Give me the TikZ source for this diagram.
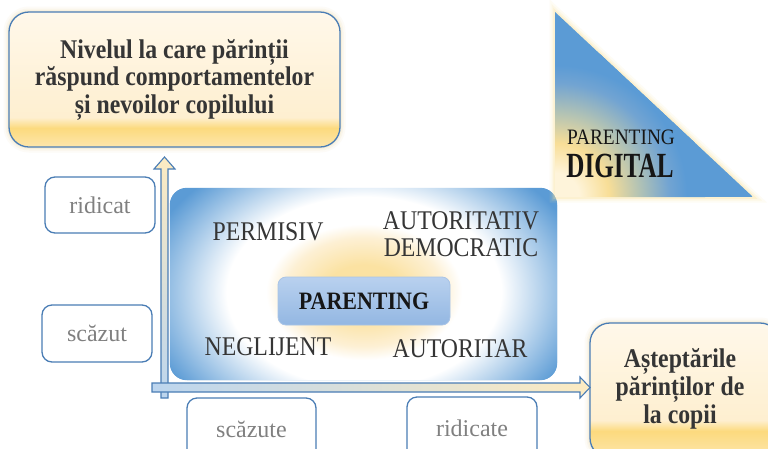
\documentclass[tikz,border=0pt]{standalone}
\usepackage{fontspec}
\setmainfont{Liberation Serif}[FakeStretch=0.88]
\newfontfamily\tagfont{Liberation Serif}

\definecolor{accent}{HTML}{5B9BD5}
\definecolor{edge}{HTML}{4A7DB5}
\definecolor{ink}{HTML}{353535}
\definecolor{tagink}{HTML}{808080}
\definecolor{coreink}{HTML}{161616}
\definecolor{creamtop}{HTML}{FFF8EA}
\definecolor{creammid}{HTML}{FEEFD0}
\definecolor{band}{HTML}{FCDA7E}
\definecolor{bandlow}{HTML}{FDE6AC}
\definecolor{glowcream}{HTML}{EFDDB2}
\definecolor{glowyellow}{HTML}{FBE29A}
\definecolor{glowcore}{HTML}{FBE2A2}
\definecolor{glowmid}{HTML}{FDF0D4}
\definecolor{cornercream}{HTML}{FEF4DA}
\definecolor{corneryellow}{HTML}{F8DE97}
\definecolor{cornergrey}{HTML}{B3C3B4}
\definecolor{cornerblue}{HTML}{72A4D2}
\definecolor{coretop}{HTML}{B9D1EF}
\definecolor{corebot}{HTML}{93B7E2}
\definecolor{corerim}{HTML}{A9C4E6}
\definecolor{axcream}{HTML}{FCEBC2}
\definecolor{axblue}{HTML}{BCD5EE}

% cream fill with a warm band near the lower edge
\pgfdeclareverticalshading{bandtop}{100bp}{color(0bp)=(bandlow); color(25bp)=(bandlow);
  color(32bp)=(band); color(36bp)=(creammid); color(75bp)=(creamtop); color(100bp)=(creamtop)}
\pgfdeclareverticalshading{bandright}{100bp}{color(0bp)=(bandlow); color(25bp)=(bandlow);
  color(35bp)=(band); color(39bp)=(creammid); color(75bp)=(creamtop); color(100bp)=(creamtop)}
% warm centre fading to white and then to blue
\pgfdeclareradialshading{coreglow}{\pgfpoint{0bp}{0bp}}{color(0bp)=(glowcore); color(4bp)=(glowcore);
  color(8bp)=(glowmid); color(10bp)=(white); color(14bp)=(white); color(23bp)=(accent); color(50bp)=(accent)}
% warm corner of the triangle
\pgfdeclareradialshading{cornerglow}{\pgfpoint{0bp}{0bp}}{color(0bp)=(cornercream); color(4bp)=(cornercream);
  color(9bp)=(corneryellow); color(14bp)=(cornergrey); color(19bp)=(cornerblue); color(22bp)=(accent); color(50bp)=(accent)}

\begin{document}
\begin{tikzpicture}[x=1pt,y=-1pt,
  softglow/.style={preaction={draw=#1,line width=11pt,draw opacity=0.10},
                   preaction={draw=#1,line width=7pt,draw opacity=0.16},
                   preaction={draw=#1,line width=3.5pt,draw opacity=0.28}},
  creambox/.style={draw=edge,line width=1.3pt,rounded corners=20pt,softglow=glowcream,inner sep=0pt},
  tagbox/.style={draw=edge,line width=1.3pt,rounded corners=10pt,fill=white,text=tagink,
                 font=\tagfont\fontsize{24}{28}\selectfont,inner sep=0pt},
  quadlabel/.style={text=ink,font=\fontsize{27}{27}\selectfont,align=center,inner sep=0pt},
  axisarrow/.style={draw=edge,line width=1.1pt,line join=miter}]

\clip (0,0) rectangle (768,448);
\fill[white] (0,0) rectangle (768,448);

% response axis caption
\node[creambox,shading=bandtop,minimum width=331pt,minimum height=135pt,text=ink,
      font=\bfseries\fontsize{27}{27.5}\selectfont,align=center] (resp) at (174.5,79.5)
  {Nivelul la care părinții\\răspund comportamentelor\\și nevoilor copilului};

% expectations axis caption
\node[creambox,shading=bandright,minimum width=190pt,minimum height=135pt] (expbox) at (685,390.5) {};
\node[text=ink,font=\bfseries\fontsize{27}{28}\selectfont,align=center,inner sep=0pt] (exptext) at (680,389)
  {Așteptările\\părinților de\\la copii};

% level tags
\node[tagbox,minimum width=110pt,minimum height=56pt] (resphigh) at (100,205) {ridicat};
\node[tagbox,minimum width=110pt,minimum height=57pt] (resplow) at (97,333.5) {scăzut};
\node[tagbox,minimum width=129pt,minimum height=62pt] (explow) at (251.5,429) {scăzute};
\node[tagbox,minimum width=130pt,minimum height=63pt] (exphigh) at (472,428.5) {ridicate};

% the four styles field
\node[minimum width=387pt,minimum height=192pt,rounded corners=17pt,fill=accent,inner sep=0pt] (quad) at (363.5,284) {};
\begin{scope}
  \clip[rounded corners=17pt] (quad.north west) rectangle (quad.south east);
  \shade[shading=coreglow] (364,292) ellipse [x radius=245, y radius=170];
\end{scope}

\node[quadlabel] (permisiv) at (268,231.5) {PERMISIV};
\node[quadlabel] (autoritativ) at (461,234.5) {AUTORITATIV\\DEMOCRATIC};
\node[quadlabel] (neglijent) at (268,347) {NEGLIJENT};
\node[quadlabel] (autoritar) at (460,348.5) {AUTORITAR};

\node[rounded corners=8pt,top color=coretop,bottom color=corebot,draw=corerim,line width=0.8pt,
      minimum width=172pt,minimum height=48pt,inner sep=0pt,text=coreink,
      font=\bfseries\fontsize{25}{25}\selectfont] (core) at (364,301) {PARENTING};

% axes
\coordinate (ytip) at (164.5,157);
\coordinate (xtip) at (590,387.5);
\shadedraw[axisarrow,top color=axcream,bottom color=axblue]
  (161,398) -- (161,169) -- (154,169) -- (ytip) -- (175,169) -- (168,169) -- (168,398) -- cycle;
\shadedraw[axisarrow,left color=axblue,right color=axcream]
  (152,383) -- (580,383) -- (580,377) -- (xtip) -- (580,398) -- (580,392) -- (152,392) -- cycle;

% digital parenting triangle
\path[softglow=glowyellow] (555,12) -- (555,197) -- (753,197) -- cycle;
\begin{scope}
  \clip (555,12) -- (555,197) -- (753,197) -- cycle;
  \fill[accent] (555,12) rectangle (753,197);
  \shade[shading=cornerglow] (555,197) circle (150pt);
\end{scope}
\node[text=coreink,font=\fontsize{22}{22}\selectfont,inner sep=0pt] (digtop) at (621,137.5) {PARENTING};
\node[text=coreink,font=\bfseries\fontsize{34}{34}\selectfont,inner sep=0pt] (digbot) at (620,166)
  {\scalebox{0.84}[1.04]{DIGITAL}};

\end{tikzpicture}
\end{document}
